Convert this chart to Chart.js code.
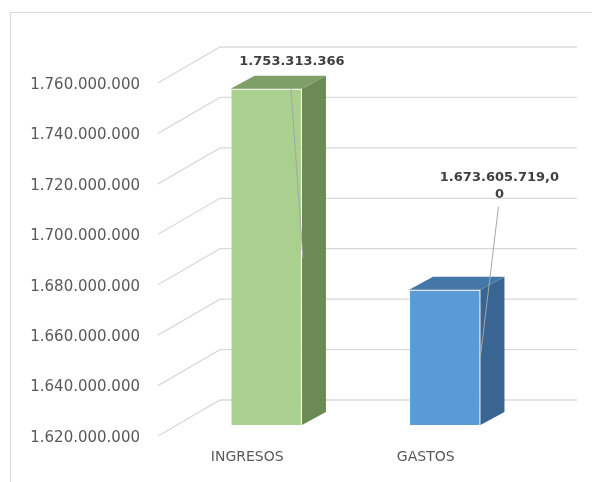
<!DOCTYPE html>
<html>
<head>
<meta charset="utf-8">
<script src="https://cdn.jsdelivr.net/npm/chart.js@4.4.0/dist/chart.umd.min.js"></script>
<style>
    html, body { margin: 0; padding: 0; background: #fff; }
    #wrap { width: 592px; height: 482px; position: relative; }
</style>
</head>
<body>
<div id="wrap"><canvas id="chart" width="592" height="482"></canvas></div>
<script>
const categories = ['INGRESOS', 'GASTOS'];
const values = [1753313366, 1673605719];
const labelDecimals = [0, 2];
const yMin = 1620000000;
const yMax = 1760000000;
const yStep = 20000000;

const frontColors = ['#a9d08e', '#5b9bd5'];
const sideColors = ['#6b8a56', '#386592'];
const topColors = ['#7f9f69', '#4477a8'];

// 3d look: wall depth, bar front plane, bar depth
const WALL = { dx: 62, dy: -36 };
const BAR_FRONT = { dx: 19, dy: -11 };
const BAR_DEPTH = { dx: 24, dy: -13 };
// data label placement, relative to the top-right corner of the bar front
const labelPlace = [
    { dx: -10, dy: -27, x1: -11, y1: 0, x2: 1, y2: 169 },
    { dx: 19, dy: -112, x1: 18, y1: -83, x2: 0, y2: 67 }
];

function fmt(v, dec) {
    const s = Math.abs(v).toFixed(dec);
    const parts = s.split('.');
    const g = parts[0].replace(/\B(?=(\d{3})+(?!\d))/g, '.');
    return parts[1] ? g + ',' + parts[1] : g;
}

function wrapText(ctx, text, maxW) {
    const lines = [];
    let cur = '';
    for (const ch of text) {
        if (ctx.measureText(cur + ch).width > maxW && cur) {
            lines.push(cur);
            cur = ch;
        } else cur += ch;
    }
    if (cur) lines.push(cur);
    return lines;
}

const threeD = {
    id: 'threeD',
    beforeDraw(chart) {
        const { ctx, chartArea: area } = chart;
        const y = chart.scales.y;
        ctx.save();
        ctx.strokeStyle = '#d9d9d9';
        ctx.lineWidth = 1;
        ctx.strokeRect(10.5, 12.5, 700, 600);
        ctx.lineWidth = 1.3;
        y.ticks.forEach(t => {
            const py = y.getPixelForValue(t.value);
            ctx.beginPath();
            ctx.moveTo(area.left, py);
            ctx.lineTo(area.left + WALL.dx, py + WALL.dy);
            ctx.lineTo(area.right + WALL.dx, py + WALL.dy);
            ctx.stroke();
        });
        ctx.restore();
    },
    beforeDatasetsDraw(chart) {
        chart.ctx.save();
        chart.ctx.translate(BAR_FRONT.dx, BAR_FRONT.dy);
    },
    afterDatasetsDraw(chart) {
        const ctx = chart.ctx;
        ctx.restore();
        const meta = chart.getDatasetMeta(0);
        const floor = chart.scales.y.getPixelForValue(yMin);
        ctx.save();
        meta.data.forEach((bar, i) => {
            const left = bar.x - bar.width / 2 + BAR_FRONT.dx;
            const right = bar.x + bar.width / 2 + BAR_FRONT.dx;
            const top = bar.y + BAR_FRONT.dy;
            const bottom = Math.min(bar.base, floor) + BAR_FRONT.dy;

            ctx.fillStyle = sideColors[i];
            ctx.beginPath();
            ctx.moveTo(right, top);
            ctx.lineTo(right + BAR_DEPTH.dx, top + BAR_DEPTH.dy);
            ctx.lineTo(right + BAR_DEPTH.dx, bottom + BAR_DEPTH.dy);
            ctx.lineTo(right, bottom);
            ctx.closePath();
            ctx.fill();

            ctx.fillStyle = topColors[i];
            ctx.beginPath();
            ctx.moveTo(left, top);
            ctx.lineTo(left + BAR_DEPTH.dx, top + BAR_DEPTH.dy);
            ctx.lineTo(right + BAR_DEPTH.dx, top + BAR_DEPTH.dy);
            ctx.lineTo(right, top);
            ctx.closePath();
            ctx.fill();
        });

        // data labels with leader lines
        ctx.font = 'bold 13px "DejaVu Sans"';
        ctx.textAlign = 'center';
        ctx.textBaseline = 'middle';
        meta.data.forEach((bar, i) => {
            const cx = bar.x + bar.width / 2 + BAR_FRONT.dx;
            const cy = bar.y + BAR_FRONT.dy;
            const p = labelPlace[i];
            ctx.strokeStyle = '#a6a6a6';
            ctx.lineWidth = 1;
            ctx.beginPath();
            ctx.moveTo(cx + p.x1, cy + p.y1);
            ctx.lineTo(cx + p.x2, cy + p.y2);
            ctx.stroke();

            ctx.fillStyle = '#404040';
            const lines = wrapText(ctx, fmt(values[i], labelDecimals[i]), 122);
            lines.forEach((ln, k) => ctx.fillText(ln, cx + p.dx, cy + p.dy + k * 17));
        });
        ctx.restore();
    }
};

new Chart(document.getElementById('chart').getContext('2d'), {
    type: 'bar',
    data: {
        labels: categories,
        datasets: [{
            data: values,
            backgroundColor: frontColors,
            borderColor: 'rgba(255,255,255,0.2)',
            borderWidth: 1,
            barPercentage: 0.4,
            categoryPercentage: 1
        }]
    },
    options: {
        responsive: false,
        maintainAspectRatio: false,
        animation: false,
        layout: { padding: { left: 0, top: 83, right: 77, bottom: 0 } },
        scales: {
            x: {
                grid: { display: false, drawTicks: false },
                border: { display: false },
                ticks: { color: '#595959', font: { family: 'DejaVu Sans', size: 14 }, padding: 13 },
                afterFit(scale) { scale.height = 46; }
            },
            y: {
                min: yMin,
                max: yMax,
                grid: { display: false, drawTicks: false },
                border: { display: false },
                ticks: {
                    stepSize: yStep,
                    color: '#595959',
                    font: { family: 'DejaVu Sans', size: 15 },
                    padding: 18,
                    labelOffset: 2,
                    callback: v => fmt(v, 0)
                },
                afterFit(scale) { scale.width = 158; }
            }
        },
        plugins: { legend: { display: false }, tooltip: { enabled: false } }
    },
    plugins: [threeD]
});
</script>
</body>
</html>
